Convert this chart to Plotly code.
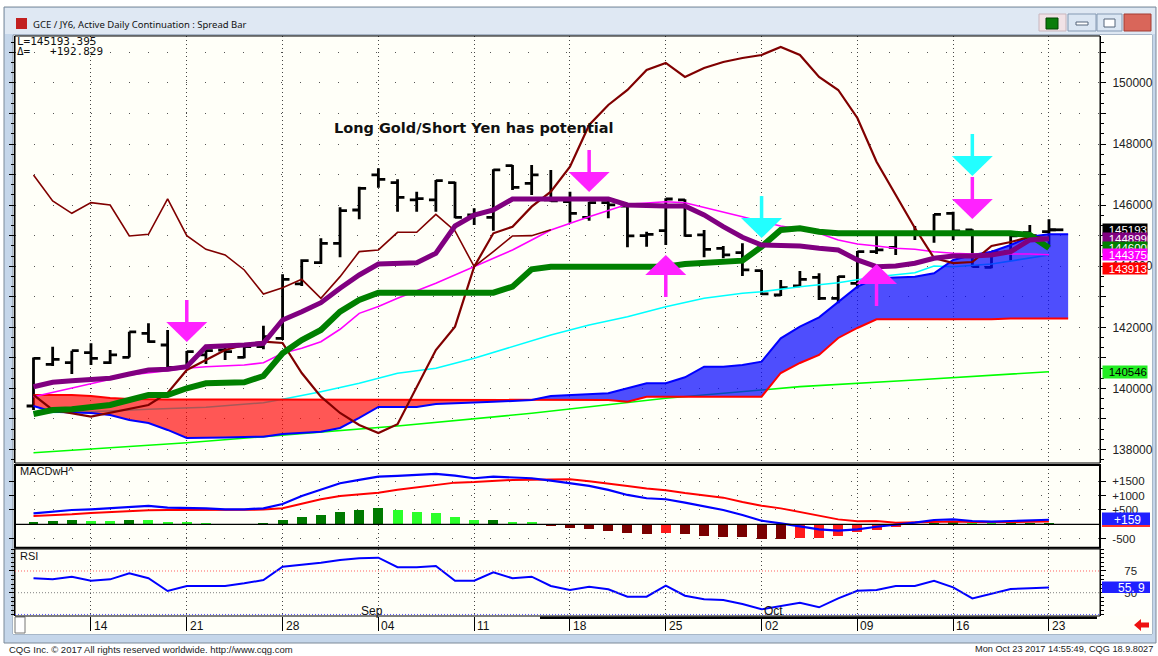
import plotly.graph_objects as go

W, H = 1158, 656


def px(x):
    return x / W


def py(y):
    return 1 - y / H


# ---------------- data ----------------
monday_idx = [3, 8, 13, 18, 23, 28, 33, 38, 43, 48, 53]
monday_lbl = ["14", "21", "28", "04", "11", "18", "25", "02", "09", "16", "23"]
month_idx = [17, 38]
month_lbl = ["Sep", "Oct"]

bar_open = [139425, 140790, 140844, 141171, 140844, 141019, 141804, 141422, 140691, 141095,
            141258, 141019, 141368, 141641, 143420, 144118, 144751, 145842, 146988, 146737,
            146170, 146170, 146737, 145678, 145602, 147294, 146715, 146170, 146115, 145602,
            146082, 145973, 145002, 145165, 146170, 145024, 144587, 144445, 143856, 143059,
            143354, 143638, 142950, 143441, 144478, 144620, 145078, 145078, 145733, 145187,
            143965, 144478, 145100, 145133]
bar_high = [141008, 141368, 141237, 141477, 141258, 141859, 142132, 141913, 141226, 141280,
            141368, 141401, 142055, 143736, 144227, 144914, 145929, 146606, 147206, 146846,
            146442, 146824, 146770, 145897, 147174, 147315, 147315, 147152, 146442, 146115,
            146224, 146006, 145133, 146224, 146191, 145187, 144663, 144751, 143878, 143550,
            143845, 143768, 143681, 144500, 145078, 145133, 145318, 145711, 145787, 145209,
            144500, 145023, 145351, 145536]
bar_low = [139294, 140735, 140473, 140768, 140800, 141019, 141499, 140658, 140658, 140800,
           140931, 140986, 141280, 141586, 143354, 144074, 144292, 145536, 146573, 145787,
           145787, 145787, 145569, 145351, 145165, 146497, 146333, 146115, 145427, 145493,
           145569, 144620, 144642, 144696, 144969, 144292, 144260, 143681, 143059, 143026,
           143332, 142895, 142786, 143278, 144402, 144369, 144860, 144772, 144860, 143965,
           143932, 144183, 144914, 144620]
bar_close = [140986, 140953, 141237, 140986, 141095, 141848, 141531, 140691, 141204, 141237,
             141204, 141368, 141695, 143572, 144183, 144751, 145820, 146551, 146846, 146257,
             146213, 146802, 145602, 145711, 147152, 146584, 146988, 146137, 145733, 146082,
             146006, 144991, 145045, 146202, 145002, 144554, 144369, 143878, 143092, 143299,
             143572, 142950, 143659, 144478, 144533, 145111, 145111, 145700, 145155, 143987,
             144478, 144991, 145001, 145193]

conv_purple = [140056, 140200, 140250, 140276, 140331, 140472, 140603, 140626, 140711, 141366,
               141389, 141422, 141477, 142240, 142512, 142807, 143278, 143714, 144074, 144097,
               144116, 144424, 145318, 145678, 145842, 146202, 146202, 146202, 146202, 146202,
               146202, 146005, 145973, 145973, 145973, 145678, 145295, 144948, 144696, 144663,
               144663, 144588, 144532, 144205, 143986, 144008, 144097, 144260, 144336, 144336,
               144368, 144476, 144860, 144899]
base_green = [139163, 139294, 139317, 139382, 139458, 139621, 139785, 139785, 140004, 140168,
              140168, 140200, 140407, 141150, 141586, 141913, 142512, 142895, 143134, 143134,
              143134, 143134, 143134, 143134, 143134, 143331, 143900, 143985, 143985, 143985,
              143985, 143985, 143985, 143985, 144074, 144116, 144149, 144182, 144640, 145187,
              145242, 145131, 145078, 145078, 145078, 145078, 145078, 145078, 145078, 145078,
              145078, 145078, 145023, 144600]
span_red = [139785, 139785, 139785, 139752, 139687, 139654, 139637, 139637, 139637, 139637,
            139637, 139637, 139637, 139637, 139637, 139637, 139637, 139637, 139637, 139637,
            139637, 139637, 139637, 139637, 139637, 139637, 139637, 139637, 139637, 139621,
            139621, 139565, 139729, 139729, 139729, 139729, 139729, 139729, 139729, 140505,
            140833, 141095, 141651, 141979, 142263, 142263, 142263, 142263, 142263, 142263,
            142263, 142289, 142289, 142289, 142289]
span_blue = [139425, 139238, 139212, 139196, 139131, 138967, 138869, 138640, 138378, 138378,
             138393, 138410, 138419, 138508, 138541, 138583, 138704, 139032, 139392, 139392,
             139392, 139490, 139523, 139532, 139565, 139588, 139621, 139752, 139775, 139808,
             139840, 140004, 140168, 140168, 140364, 140711, 140711, 140767, 140875, 141641,
             142021, 142329, 142839, 143330, 143605, 143625, 143658, 143769, 144205, 144368,
             144476, 144696, 144968, 145046, 145046]

magenta_idx = [0, 3, 5, 7, 8, 9, 11, 12, 13, 14, 15, 16, 17, 18, 19, 21, 23, 25, 27, 29, 31,
               32, 33, 34, 35, 36, 37, 38, 39, 40, 41, 42, 43, 44, 45, 46, 47, 48, 49, 52, 53]
magenta_val = [139729, 140168, 140440, 140581, 140659, 140711, 140767, 140842, 141150, 141314,
               141530, 141936, 142457, 142681, 142950, 143441, 143985, 144532, 145187, 145622,
               146028, 146081, 146113, 146081, 145930, 145786, 145622, 145458, 145318, 145220,
               145078, 144860, 144729, 144663, 144588, 144555, 144476, 144424, 144401, 144401,
               144375]
cyan_idx = [0, 3, 6, 9, 12, 13, 15, 17, 19, 21, 23, 25, 27, 29, 31, 33, 35, 37, 38, 40, 42,
            44, 46, 47, 48, 50, 53]
cyan_val = [139205, 139238, 139317, 139382, 139533, 139644, 139893, 140168, 140495, 140659,
            140986, 141366, 141750, 142076, 142348, 142676, 142950, 143114, 143167, 143330,
            143461, 143658, 143789, 144008, 143985, 144074, 144368]
lime_idx = [0, 8, 19, 26, 33, 40, 46, 53]
lime_val = [137896, 138223, 138770, 139186, 139677, 140057, 140276, 140546]
swing_idx = [0, 1, 3, 6, 7, 8, 9, 10, 11, 12, 13, 14, 15, 16, 17, 18, 19, 20, 21, 22, 23, 24,
             25, 26, 27, 28, 29, 30, 31, 32, 33, 34, 35, 36, 37, 38, 39, 40, 41, 42, 43, 44,
             45, 46, 47, 48, 49, 50, 51, 52, 53]
swing_val = [139785, 139294, 139075, 139458, 139850, 140603, 140930, 141258, 141422, 141530,
             141487, 140505, 139729, 139196, 138804, 138542, 138830, 140056, 141258, 142021,
             143985, 145078, 145295, 145950, 146441, 147259, 148625, 149280, 149771, 150426,
             150655, 150197, 150491, 150688, 150819, 150917, 151179, 150917, 150197, 149771,
             148854, 147420, 146333, 145253, 144270, 144100, 144139, 144663, 144794, 144958,
             144925]
chikou_shift = 26

macd_line = [384, 440, 499, 523, 558, 614, 639, 579, 579, 558,
             523, 523, 558, 708, 988, 1197, 1431, 1546, 1661, 1690,
             1710, 1755, 1696, 1605, 1661, 1640, 1605, 1522, 1431, 1337,
             1197, 1023, 907, 873, 754, 614, 499, 325, 126, 35,
             -60, -175, -223, -175, -84, -24, 56, 150, 175, 115,
             91, 115, 150, 159]
macd_signal = [291, 312, 348, 395, 430, 463, 488, 498, 498, 512,
               523, 523, 512, 557, 721, 871, 989, 1046, 1103, 1200,
               1291, 1380, 1452, 1470, 1501, 1547, 1550, 1569, 1571, 1500,
               1425, 1337, 1244, 1187, 1091, 1009, 929, 779, 650, 555,
               420, 300, 172, 104, 114, 57, 66, 92, 94, 80,
               70, 80, 92, 101]
macd_hist = [93, 128, 151, 128, 120, 151, 140, 81, 75, 46,
             5, 8, 46, 151, 267, 326, 442, 500, 558, 500,
             419, 384, 244, 140, 160, 93, 70, -47, -140, -163,
             -221, -314, -337, -314, -337, -395, -430, -454, -512, -520,
             -489, -485, -395, -279, -198, -81, -10, 58, 81, 35,
             23, 35, 58, 62]
rsi = [66.6, 65.4, 68.4, 63.8, 65.4, 72.3, 66.6, 52.0, 57.7, 57.7,
       57.7, 60.8, 64.6, 80.0, 81.9, 84.6, 87.7, 89.6, 90.3, 79.3,
       79.3, 80.8, 63.8, 63.8, 73.5, 66.6, 68.4, 57.7, 53.1, 56.9,
       53.9, 45.4, 45.4, 58.1, 46.5, 42.4, 41.6, 37.0, 30.9, 34.7,
       38.5, 33.2, 43.5, 52.3, 53.1, 57.7, 57.7, 63.8, 56.2, 43.5,
       48.5, 54.3, 55.0, 55.9]

# signal arrows: bar, tip value, direction
arrow_bar = [8, 29, 33, 38, 44, 49, 49]
arrow_tip = [141520, 146431, 144368, 144922, 144074, 146955, 145547]
arrow_dir = ["down", "down", "up", "down", "up", "down", "down"]
arrow_kind = ["m", "m", "m", "c", "m", "c", "m"]

# right-hand value tags
tag_val = [145193, 144899, 144600, 144375, 143913]
tag_txt = ["145193", "144899", "144600", "144375", "143913"]
tag_bg = ["#000000", "#800080", "#008000", "#ff00ff", "#ff0000"]

macd_ticks = [1500, 1000, 500, -500]
macd_ticktext = ["+1500", "+1000", "+500", "-500"]
rsi_ticks = [50, 75]

header_last = "L=145193.395"
header_delta = "\u0394=   +192.829"

# ---------------- figure ----------------
n = len(bar_close)
xs = list(range(n))
xs_cloud = list(range(len(span_red)))

fig = go.Figure()


def line(x, y, color, width, yaxis="y", dash=None):
    fig.add_trace(go.Scatter(x=x, y=y, mode="lines", yaxis=yaxis, hoverinfo="skip",
                             line=dict(color=color, width=width, dash=dash),
                             showlegend=False))


# lines that sit under the cloud fill
line(lime_idx, lime_val, "#00ff00", 1.6)
line(cyan_idx, cyan_val, "#00ffff", 1.6)

# cloud fills
cloud_top = [max(r, b) for r, b in zip(span_red, span_blue)]
fig.add_trace(go.Scatter(x=xs_cloud, y=span_blue, mode="lines", line=dict(width=0),
                         hoverinfo="skip", showlegend=False))
fig.add_trace(go.Scatter(x=xs_cloud, y=cloud_top, mode="lines", line=dict(width=0),
                         fill="tonexty", fillcolor="rgba(255,0,0,0.66)",
                         hoverinfo="skip", showlegend=False))
fig.add_trace(go.Scatter(x=xs_cloud, y=span_red, mode="lines", line=dict(width=0),
                         hoverinfo="skip", showlegend=False))
fig.add_trace(go.Scatter(x=xs_cloud, y=cloud_top, mode="lines", line=dict(width=0),
                         fill="tonexty", fillcolor="rgba(10,10,255,0.72)",
                         hoverinfo="skip", showlegend=False))
line(xs_cloud, span_red, "#ff0000", 2)
line(xs_cloud, span_blue, "#0000ff", 2)

line(magenta_idx, magenta_val, "#ff00ff", 1.6)
chk_x = xs[: n - chikou_shift]
chk_y = bar_close[chikou_shift:]
line(chk_x, chk_y, "#800000", 1.6)
line(swing_idx, swing_val, "#800000", 2.2)
line(xs, base_green, "#008000", 6)
line(xs, conv_purple, "#800080", 5)

fig.add_trace(go.Ohlc(x=xs, open=bar_open, high=bar_high, low=bar_low, close=bar_close,
                      increasing=dict(line=dict(color="black", width=2.8)),
                      decreasing=dict(line=dict(color="black", width=2.8)),
                      tickwidth=0.36, hoverinfo="skip", showlegend=False))
line([xs[-1], xs[-1] + 0.75], [bar_close[-1], bar_close[-1]], "black", 2.8)

# MACD panel
hist_col = []
for i, v in enumerate(macd_hist):
    prev = macd_hist[i - 1] if i else v - 1
    if v >= 0:
        hist_col.append("#007a00" if v >= prev else "#2bff2b")
    else:
        hist_col.append("#7a0000" if v <= prev else "#ff1a1a")
fig.add_trace(go.Bar(x=xs, y=macd_hist, yaxis="y2", marker=dict(color=hist_col, line=dict(width=0)),
                     width=0.52, hoverinfo="skip", showlegend=False))
line(xs, macd_signal, "#ff0000", 2, "y2")
line(xs, macd_line, "#0000ff", 2.2, "y2")

# RSI panel
line(xs, rsi, "#0000ff", 2, "y3")

XR = [(15 - 33.5) / 19.16, (1100 - 33.5) / 19.16]
grid_dash = "1px,3px"
row_dash = "1px,18px"
axfont = dict(family="Liberation Sans", size=12, color="#222")

fig.update_layout(
    width=W, height=H, autosize=False,
    margin=dict(l=0, r=0, t=0, b=0),
    paper_bgcolor="#ffffff", plot_bgcolor="#fffff8",
    showlegend=False, bargap=0,
    xaxis=dict(domain=[px(15), px(1100)], range=XR, anchor="y3",
               tickvals=monday_idx, showticklabels=False,
               ticks="outside", ticklen=14, tickcolor="#000", tickwidth=1,
               showgrid=True, gridcolor="#444", gridwidth=1, griddash=grid_dash,
               showline=False, zeroline=False, rangeslider=dict(visible=False),
               fixedrange=True),
    yaxis=dict(domain=[py(463), py(36)], range=[137558, 151538], side="right",
               tickvals=list(range(138000, 151001, 1000)),
               ticktext=[str(v) if v % 2000 == 0 else "" for v in range(138000, 151001, 1000)],
               ticks="outside", ticklen=5, tickcolor="#000", ticklabelstandoff=4,
               minor=dict(dtick=1000 / 3, ticklen=3, tickcolor="#000", showgrid=False, ticks="outside"),
               showline=True, linecolor="#000", linewidth=1, mirror="ticks",
               showgrid=True, gridcolor="#555", griddash=row_dash, zeroline=False,
               tickfont=axfont),
    yaxis2=dict(domain=[py(547.7), py(465)], range=[-815, 2066], side="right", anchor="x",
                tickvals=macd_ticks, ticktext=macd_ticktext,
                ticks="outside", ticklen=5, tickcolor="#000", ticklabelstandoff=4,
                showline=True, linecolor="#000", mirror="ticks",
                showgrid=True, gridcolor="#555", griddash=row_dash, zeroline=False,
                tickfont=dict(family="Liberation Sans", size=11.5, color="#222")),
    yaxis3=dict(domain=[py(616), py(549)], range=[23.2, 100.3], side="right", anchor="x",
                tickvals=rsi_ticks, ticktext=[str(v) for v in rsi_ticks],
                ticks="outside", ticklen=5, tickcolor="#000", ticklabelstandoff=16,
                minor=dict(dtick=5, ticklen=3, tickcolor="#000", ticks="outside"),
                showline=True, linecolor="#000", mirror="ticks",
                showgrid=False, zeroline=False,
                tickfont=dict(family="Liberation Sans", size=11.5, color="#222")),
)

shapes = []
ann = []


def rect(x0, y0, x1, y1, fill, line_color=None, lw=0, layer="below"):
    shapes.append(dict(type="rect", xref="paper", yref="paper",
                       x0=px(x0), x1=px(x1), y0=py(y1), y1=py(y0),
                       fillcolor=fill, line=dict(color=line_color or fill, width=lw),
                       layer=layer))


# window chrome
rect(4, 7, 1156, 643, "#c5d6ea", "#7d8a99", 1)
rect(5, 8, 1155, 34, "#dfe8f3")
rect(13, 35, 1152, 634, "#fffff8", "#8a97a6", 1)
rect(1100, 35, 1152, 616, "#fffffa")
rect(13, 616, 1152, 634, "#fffff8")
rect(540, 616.5, 1097, 619, "#000000", layer="above")
rect(15, 617, 25, 633, "#ffffff", "#777777", 1, layer="above")
# title-bar buttons
rect(1039, 14, 1066, 31, "#f1e2e6", "#c9b6bd", 1)
rect(1046, 18, 1058, 29, "#0a7d0a", "#004400", 1)
rect(1068, 14, 1096, 31, "#dbe6f3", "#8499b3", 1)
rect(1076, 22, 1088, 25, "#ffffff", "#55657a", 1)
rect(1097, 14, 1122, 31, "#dbe6f3", "#8499b3", 1)
rect(1104, 19, 1115, 27, "#ffffff", "#55657a", 1)
rect(1124, 14, 1151, 31, "#d9665a", "#a33c32", 1)
# title icon
rect(16, 18, 27, 29, "#c21f1f")

# panel frames
rect(15, 36, 1100, 463, "rgba(0,0,0,0)", "#000", 1, layer="above")
rect(15, 465, 1100, 547.7, "rgba(0,0,0,0)", "#000", 2, layer="above")
rect(15, 549, 1100, 616, "rgba(0,0,0,0)", "#000", 1, layer="above")

# MACD zero line and RSI levels
shapes.append(dict(type="line", xref="paper", yref="y2", x0=px(15), x1=px(1100), y0=0, y1=0,
                   line=dict(color="#000", width=1.2)))
for lvl, col in [(75, "#ff6060"), (50, "#808080"), (25, "#5050ff")]:
    shapes.append(dict(type="line", xref="paper", yref="y3", x0=px(15), x1=px(1100), y0=lvl, y1=lvl,
                       line=dict(color=col, width=1, dash="1px,2px")))

# arrows
TRI_H = 20 * 32.74
SHAFT = 22 * 32.74
HALF = 1.07
for b, tip, d, k in zip(arrow_bar, arrow_tip, arrow_dir, arrow_kind):
    col = "#ff22ff" if k == "m" else "#22ffff"
    s = 1 if d == "down" else -1
    base = tip + s * TRI_H
    tail = base + s * SHAFT
    shapes.append(dict(type="line", xref="x", yref="y", x0=b, x1=b, y0=base, y1=tail,
                       line=dict(color=col, width=3.5), layer="above"))
    shapes.append(dict(type="path", xref="x", yref="y",
                       path=f"M {b - HALF},{base} L {b + HALF},{base} L {b},{tip} Z",
                       fillcolor=col, line=dict(color=col, width=0), layer="above"))

# value tags on the right (later tags cover earlier ones, as in the reference)
for v, t, bg in zip(tag_val, tag_txt, tag_bg):
    ann.append(dict(xref="paper", yref="y", x=px(1102), y=v, text=t, showarrow=False,
                    xanchor="left", yanchor="middle", width=44, align="right",
                    bgcolor=bg, borderpad=0, height=11,
                    font=dict(family="Liberation Sans", size=11.5, color="#ffffff")))
lv = lime_val[-1]
ann.append(dict(xref="paper", yref="y", x=px(1102), y=lv, text=str(lv), showarrow=False,
                xanchor="left", yanchor="middle", width=44, align="right",
                bgcolor="#22ee22", borderpad=0, height=12,
                font=dict(family="Liberation Sans", size=11.5, color="#000")))

# MACD tag
rect(1102, 524.5, 1150, 527, "#ff3030", layer="above")
rect(1102, 512.5, 1150, 525, "#2020ff", layer="above")
ann.append(dict(xref="paper", yref="y2", x=px(1143), y=macd_line[-1], text=f"+{macd_line[-1]}",
                showarrow=False, xanchor="right", yanchor="middle",
                font=dict(family="Liberation Sans", size=12, color="#ffffff")))
# RSI tag
rect(1102, 581.5, 1150, 593, "#2020ff", layer="above")
ann.append(dict(xref="paper", yref="y3", x=px(1147), y=rsi[-1], text=f"{rsi[-1]:.1f}".replace(".", ". "),
                showarrow=False, xanchor="right", yanchor="middle",
                font=dict(family="Liberation Sans", size=12, color="#ffffff")))

# panel titles
ann.append(dict(xref="paper", yref="paper", x=px(18), y=py(471), text="MACDwH^", showarrow=False,
                xanchor="left", yanchor="middle", font=dict(family="Liberation Sans", size=11, color="#111")))
ann.append(dict(xref="paper", yref="paper", x=px(18), y=py(556), text="RSI", showarrow=False,
                xanchor="left", yanchor="middle", font=dict(family="Liberation Sans", size=11, color="#111")))

# date labels
for i, t in zip(monday_idx, monday_lbl):
    ann.append(dict(xref="x", yref="paper", x=i, y=py(626), text=t, showarrow=False,
                    xanchor="left", yanchor="middle", xshift=1,
                    font=dict(family="Liberation Sans", size=12, color="#111")))
for i, t in zip(month_idx, month_lbl):
    ann.append(dict(xref="x", yref="paper", x=i, y=py(611), text=t, showarrow=False,
                    xanchor="left", yanchor="middle", xshift=0,
                    font=dict(family="Liberation Sans", size=12, color="#111")))

# header texts
ann.append(dict(xref="paper", yref="paper", x=px(31), y=py(24),
                text="GCE / JY6, Active Daily Continuation : Spread Bar", showarrow=False,
                xanchor="left", yanchor="middle", font=dict(family="Noto Sans", size=9.5, color="#111")))
ann.append(dict(xref="paper", yref="paper", x=px(15), y=py(41), text=header_last, showarrow=False,
                xanchor="left", yanchor="middle", font=dict(family="DejaVu Sans Mono", size=11, color="#111")))
ann.append(dict(xref="paper", yref="paper", x=px(15), y=py(52), text=header_delta, showarrow=False,
                xanchor="left", yanchor="middle", font=dict(family="DejaVu Sans Mono", size=11, color="#111")))
ann.append(dict(xref="x", yref="y", x=23, y=148520, text="<b>Long Gold/Short Yen has potential</b>",
                showarrow=False, xanchor="center", yanchor="middle",
                font=dict(family="DejaVu Sans", size=14.5, color="#111")))

# footer
ann.append(dict(xref="paper", yref="paper", x=px(7), y=py(649),
                text="CQG Inc. \u00a9 2017 All rights reserved worldwide. http://www.cqg.com",
                showarrow=False, xanchor="left", yanchor="middle",
                font=dict(family="Liberation Sans", size=9.5, color="#222")))
ann.append(dict(xref="paper", yref="paper", x=px(1155), y=py(649),
                text="Mon Oct 23 2017 14:55:49, CQG 18.9.8027",
                showarrow=False, xanchor="right", yanchor="middle",
                font=dict(family="Liberation Sans", size=9.2, color="#222")))

# red scroll arrow
shapes.append(dict(type="path", xref="paper", yref="paper",
                   path=f"M {px(1134)},{py(625)} L {px(1141)},{py(619)} L {px(1141)},{py(622.5)} "
                        f"L {px(1149)},{py(622.5)} L {px(1149)},{py(627.5)} L {px(1141)},{py(627.5)} "
                        f"L {px(1141)},{py(631)} Z",
                   fillcolor="#ee1111", line=dict(width=0), layer="above"))

fig.update_layout(shapes=shapes, annotations=ann)
fig.write_html("out.html", config={"displayModeBar": False},
               post_script="document.body.style.margin='0';document.body.style.overflow='hidden';")
